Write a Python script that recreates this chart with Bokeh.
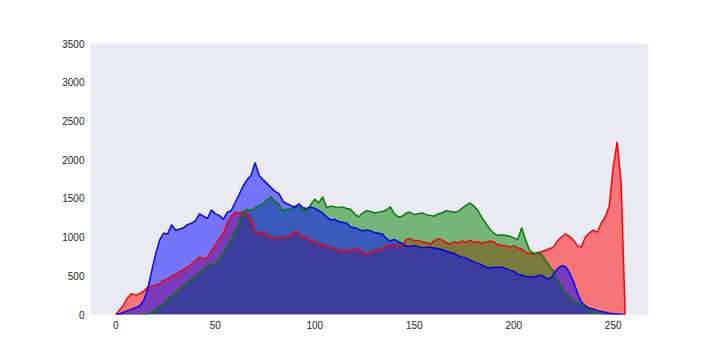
from bokeh.plotting import figure
from bokeh.embed import file_html
from bokeh.resources import INLINE
from bokeh.models import Range1d, FixedTicker

# pixel intensity bins (every 2 levels, 0..256)
levels = list(range(0, 257, 2))

red = [0, 60, 130, 220, 270, 250, 270, 300, 350, 370,
       380, 400, 440, 460, 490, 520, 550, 580, 610, 650,
       700, 740, 720, 740, 820, 900, 980, 1050, 1180, 1270,
       1320, 1310, 1330, 1300, 1220, 1090, 1040, 1060, 1030, 1000,
       990, 980, 1000, 1010, 1030, 1080, 1040, 980, 1010, 960,
       940, 920, 900, 880, 870, 860, 830, 820, 830, 830,
       840, 850, 800, 780, 800, 830, 830, 860, 890, 900,
       900, 910, 890, 970, 980, 950, 960, 940, 930, 910,
       950, 980, 960, 930, 910, 940, 920, 950, 930, 960,
       930, 940, 920, 930, 950, 940, 900, 890, 890, 870,
       890, 860, 850, 800, 790, 780, 800, 810, 830, 850,
       870, 950, 1000, 1040, 1010, 960, 890, 870, 1000, 1050,
       1090, 1060, 1180, 1260, 1400, 1900, 2230, 1700, 0]

green = [0, 0, 0, 0, 0, 0, 0, 0, 10, 30,
         60, 100, 140, 200, 230, 280, 320, 370, 420, 470,
         490, 540, 580, 630, 640, 660, 720, 790, 880, 970,
         1070, 1190, 1320, 1360, 1340, 1380, 1410, 1430, 1480, 1520,
         1460, 1420, 1340, 1360, 1370, 1400, 1390, 1360, 1340, 1420,
         1490, 1440, 1520, 1380, 1400, 1390, 1380, 1390, 1370, 1360,
         1300, 1260, 1310, 1340, 1330, 1310, 1320, 1330, 1350, 1390,
         1300, 1260, 1270, 1310, 1320, 1290, 1300, 1310, 1290, 1280,
         1270, 1300, 1310, 1340, 1330, 1320, 1330, 1370, 1410, 1440,
         1400, 1340, 1250, 1180, 1100, 1050, 1020, 1030, 1020, 1010,
         990, 970, 1120, 960, 830, 790, 790, 780, 700, 620,
         560, 430, 360, 290, 230, 180, 150, 120, 90, 55,
         30, 15, 5, 0, 0, 0, 0, 0, 0]

blue = [0, 10, 30, 50, 70, 90, 110, 180, 330, 560,
        780, 960, 1050, 1040, 1160, 1090, 1100, 1120, 1160, 1180,
        1210, 1300, 1270, 1240, 1350, 1300, 1280, 1230, 1320, 1340,
        1450, 1550, 1660, 1740, 1800, 1960, 1800, 1740, 1690, 1640,
        1590, 1560, 1460, 1430, 1410, 1380, 1430, 1380, 1370, 1390,
        1370, 1340, 1310, 1260, 1220, 1230, 1200, 1190, 1180, 1130,
        1120, 1100, 1080, 1090, 1080, 1060, 1050, 1040, 980, 950,
        970, 940, 920, 880, 880, 890, 880, 860, 870, 870,
        860, 850, 840, 820, 800, 790, 760, 740, 730, 700,
        680, 660, 640, 610, 600, 610, 610, 610, 590, 570,
        560, 520, 510, 490, 490, 480, 500, 510, 470, 460,
        520, 590, 630, 620, 540, 430, 280, 160, 110, 80,
        70, 50, 40, 30, 15, 10, 5, 0, 0]

x_ticks = [0, 50, 100, 150, 200, 250]
y_ticks = [0, 500, 1000, 1500, 2000, 2500, 3000, 3500]

series = [(red, "#FF0000"), (green, "#008000"), (blue, "#0000FF")]

p = figure(width=704, height=344, output_backend="svg", toolbar_location=None,
           x_range=Range1d(-12.75, 267.75), y_range=Range1d(0, 3500),
           min_border_left=90, min_border_right=56, min_border_top=43,
           min_border_bottom=30)

p.background_fill_color = "#EAEAF2"
p.border_fill_color = "white"
p.outline_line_color = None
p.grid.visible = False

for vals, col in series:
    p.varea(x=levels, y1=[0] * len(levels), y2=vals, fill_color=col, fill_alpha=0.5)
for vals, col in series:
    p.line(x=levels, y=vals, line_color=col, line_width=1.5)

for ax in (p.xaxis[0], p.yaxis[0]):
    ax.axis_line_color = None
    ax.major_tick_line_color = None
    ax.minor_tick_line_color = None
    ax.major_tick_out = 0
    ax.major_tick_in = 0
    ax.major_label_text_font = "Liberation Sans"
    ax.major_label_text_font_size = "10px"
    ax.major_label_text_color = "#262626"

p.xaxis[0].ticker = FixedTicker(ticks=x_ticks)
p.yaxis[0].ticker = FixedTicker(ticks=y_ticks)
p.xaxis[0].major_label_standoff = 6
p.yaxis[0].major_label_standoff = 6

open("out.html", "w").write(file_html(p, INLINE))
